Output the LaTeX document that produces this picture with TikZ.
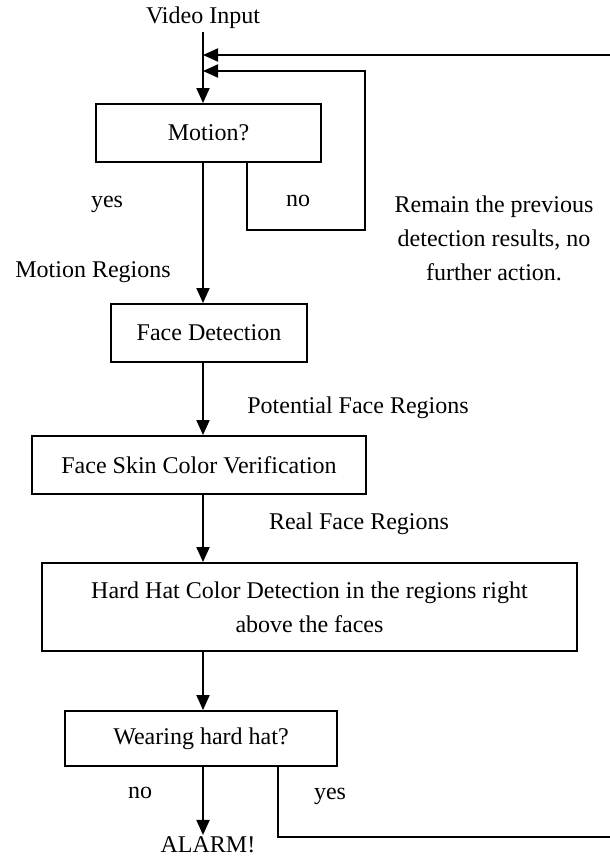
\documentclass[tikz,border=0pt]{standalone}
\usepackage{fontspec}
\setmainfont{Liberation Serif}
\usetikzlibrary{arrows.meta}
\begin{document}
\begin{tikzpicture}[x=1pt,y=-1pt,
  font=\fontsize{24}{34}\selectfont,
  line width=1.9pt,
  arr/.style={-{Triangle[length=15pt,width=13pt]}},
  box/.style={draw,rectangle,inner sep=0pt,align=center},
  lbl/.style={inner sep=2pt,align=center}]
\useasboundingbox (0,0) rectangle (610,859);
\node[lbl] (vin) at (203,18) {Video Input};
\coordinate (j1) at (203,55);
\coordinate (j2) at (203,71);
\coordinate (r1) at (610,55);
\node[box,minimum width=225pt,minimum height=58pt] (motion) at (208.5,133) {Motion?};
\node[box,minimum width=196pt,minimum height=58pt] (fd) at (209,333) {Face Detection};
\node[box,minimum width=334pt,minimum height=58pt] (skin) at (199,465) {Face Skin Color Verification};
\node[box,minimum width=535pt,minimum height=88pt] (hat) at (309.5,607) {Hard Hat Color Detection in the regions right\\above the faces};
\node[box,minimum width=272pt,minimum height=55pt] (wear) at (201,738.5) {Wearing hard hat?};
\node[lbl,inner sep=1pt] (alarm) at (208,845) {ALARM!};
\node[lbl] (yes1) at (107,204) {yes};
\node[lbl] (no1) at (298,201) {no};
\node[lbl] (remain) at (494,238) {Remain the previous\\detection results, no\\further action.};
\node[lbl] (mr) at (93,272) {Motion Regions};
\node[lbl] (pfr) at (358,408) {Potential Face Regions};
\node[lbl] (rfr) at (359,524) {Real Face Regions};
\node[lbl] (no2) at (140,793) {no};
\node[lbl] (yes2) at (330,796) {yes};
\coordinate (nox) at (247,0);
\coordinate (lp) at (365,230);
\coordinate (yx) at (278,0);
\coordinate (r2) at (610,837);
% main flow
\draw[arr] (vin.south) -- (vin |- motion.north);
\draw[arr] (r1) -- (j1);
\draw[arr] (nox |- motion.south) |- (lp) |- (j2);
\draw[arr] (vin |- motion.south) -- (vin |- fd.north);
\draw[arr] (vin |- fd.south) -- (vin |- skin.north);
\draw[arr] (vin |- skin.south) -- (vin |- hat.north);
\draw[arr] (vin |- hat.south) -- (vin |- wear.north);
\draw[arr] (vin |- wear.south) -- (vin |- alarm.north);
\draw (yx |- wear.south) |- (r2);
\end{tikzpicture}
\end{document}
